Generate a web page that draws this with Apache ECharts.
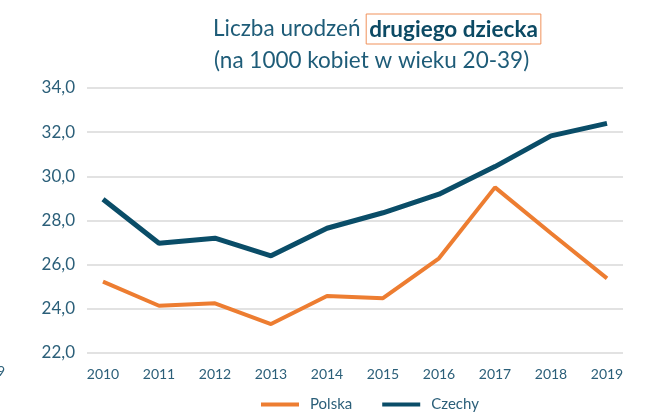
<!DOCTYPE html>
<html><head><meta charset="utf-8">
<script src="https://cdn.jsdelivr.net/npm/echarts@6/dist/echarts.min.js"></script>
<style>html,body{margin:0;padding:0;background:#fff}#c{width:655px;height:417px}</style>
</head><body><div id="c"></div>
<script>
const years = ['2010','2011','2012','2013','2014','2015','2016','2017','2018','2019'];
const polska = [25.23, 24.14, 24.25, 23.31, 24.58, 24.48, 26.29, 29.5, 27.42, 25.38];
const czechy = [28.96, 26.97, 27.2, 26.4, 27.65, 28.35, 29.19, 30.44, 31.83, 32.4];
const yMin = 22, yMax = 34, yStep = 2;

const FONT = 'Lato, "Open Sans", sans-serif';
const TXT = '#2B5F79';
const chart = echarts.init(document.getElementById('c'), null, {renderer:'canvas'});
const fmt = v => v.toFixed(1).replace('.', ',');
chart.setOption({
  animation:false,
  backgroundColor:'#fff',
  title:[
    {text:'{a|Liczba urodzeń }{b|drugiego dziecka}', left:208, top:8,
     textStyle:{rich:{
       a:{fontFamily:FONT,fontSize:22.5,color:'#1E5C78',fontWeight:'normal',height:32},
       b:{fontFamily:FONT,fontSize:22.5,color:'#0C4A64',fontWeight:'bold',borderColor:'#F0915A',borderWidth:1,padding:[3,3,1,3],height:26}
     }}},
    {text:'(na 1000 kobiet w wieku 20-39)', left:209, top:44,
     textStyle:{fontFamily:FONT,fontSize:22.5,color:'#1E5C78',fontWeight:'normal'}}
  ],
  grid:[
    {left:87, right:32, top:88, bottom:64},
    {left:103, right:48, top:88, bottom:64}
  ],
  legend:{
    bottom:0, left:256, itemWidth:38, itemHeight:4, itemGap:30,
    icon:'rect',
    textStyle:{fontFamily:FONT,fontSize:15,color:TXT,padding:[0,0,0,6]},
    data:['Polska','Czechy']
  },
  xAxis:[
    {type:'category', gridIndex:0, data:years, show:false},
    {type:'category', gridIndex:1, data:years, boundaryGap:false,
     axisLine:{show:false}, axisTick:{show:false},
     axisLabel:{fontFamily:FONT,fontSize:14,color:TXT,margin:14}}
  ],
  yAxis:[
    {type:'value', gridIndex:0, min:yMin, max:yMax, interval:yStep,
     axisLine:{show:false}, axisTick:{show:false},
     splitLine:{lineStyle:{color:'#D9D9D9',width:1.5}},
     axisLabel:{fontFamily:FONT,fontSize:17,color:TXT,margin:12,formatter:fmt}},
    {type:'value', gridIndex:1, min:yMin, max:yMax, interval:yStep, show:false, splitLine:{show:false}}
  ],
  series:[
    {name:'Polska', type:'line', xAxisIndex:1, yAxisIndex:1, data:polska,
     showSymbol:false, symbol:'none', lineStyle:{color:'#ED7D31',width:4}, itemStyle:{color:'#ED7D31'}},
    {name:'Czechy', type:'line', xAxisIndex:1, yAxisIndex:1, data:czechy,
     showSymbol:false, symbol:'none', lineStyle:{color:'#0A4D68',width:5}, itemStyle:{color:'#0A4D68'}}
  ],
  graphic:[
    {type:'text', left:-3, top:364, style:{text:'9', font:'14px '+FONT, fill:TXT}}
  ]
});
</script></body></html>
